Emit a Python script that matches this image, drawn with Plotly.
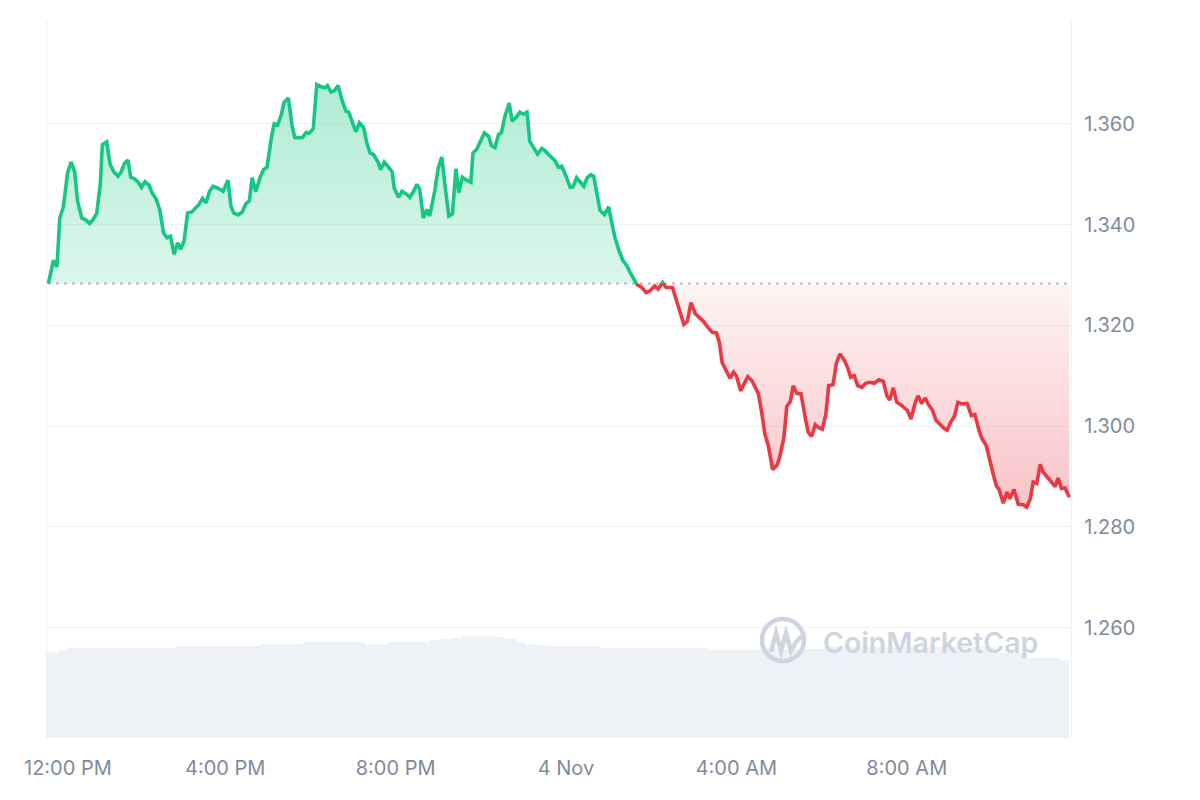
import plotly.graph_objects as go
import pandas as pd

# ---------------- data ----------------
START = pd.Timestamp("2024-11-03 11:49")

price_minutes = [
    2, 9, 14, 18, 23, 29, 34, 39, 43, 49, 55, 60, 65, 70, 75, 78, 84, 89, 94, 100,
    104, 109, 114, 118, 124, 129, 133, 138, 144, 148, 154, 159, 164, 169, 174, 179, 184, 188, 193, 198,
    204, 209, 214, 219, 224, 229, 234,
    241, 248, 255, 259, 263, 269, 275, 280, 285, 289, 294, 300, 305, 310, 316, 320, 325, 330, 334, 340,
    345, 349, 354, 360, 365, 369, 375, 380, 386, 391, 395, 400, 405, 410, 416, 421, 425, 430, 435, 440,
    446, 450, 455, 460,
    467, 470, 475, 481, 486, 489, 495, 500, 507, 511, 516, 521, 525, 530, 535, 539, 546, 551, 556, 561,
    566, 571, 576, 580, 585, 591, 597, 600, 605, 610, 616, 622, 626, 631, 636, 640, 645, 651, 655, 662,
    666, 671, 676, 680, 685, 691, 697, 701, 708,
    716, 720, 725, 731, 737, 741, 746, 752, 756, 761, 766, 770, 774, 779, 785, 791, 795, 800, 805, 811,
    817, 822, 831, 838, 844, 849, 856, 861, 867, 872, 881, 887, 892, 897, 902, 907, 913, 919, 924, 931,
    937, 943, 947, 951, 956, 962, 967, 971, 977, 982, 987, 993, 997, 1002, 1007, 1011, 1016, 1022, 1028, 1032,
    1038, 1042, 1047, 1051, 1056, 1062, 1068, 1072, 1077, 1082, 1086, 1092, 1097, 1101, 1107, 1112, 1117, 1123, 1128, 1132,
    1137, 1142, 1148, 1153, 1159, 1165,
    1172, 1178, 1183, 1187, 1192, 1197, 1202, 1207, 1212, 1217, 1223, 1227, 1232, 1237, 1241, 1247, 1252, 1258, 1263, 1268,
    1273, 1278, 1283, 1288, 1296, 1302, 1307, 1313, 1317, 1323, 1327, 1332, 1337, 1341, 1347, 1352, 1356, 1362, 1368, 1375,
    1380, 1385, 1389, 1394, 1399, 1403, 1409, 1415, 1420, 1424, 1429, 1434, 1440,
]

price_usd = [
    1.3283, 1.3329, 1.3316, 1.3413, 1.3435, 1.3503, 1.3524, 1.3504, 1.3447, 1.3413, 1.3409, 1.3402, 1.3410, 1.3422, 1.3480, 1.3559, 1.3564, 1.3519, 1.3505, 1.3496,
    1.3503, 1.3521, 1.3528, 1.3494, 1.3490, 1.3483, 1.3474, 1.3485, 1.3478, 1.3463, 1.3450, 1.3428, 1.3384, 1.3374, 1.3377, 1.3341, 1.3364, 1.3351, 1.3367, 1.3423,
    1.3425, 1.3432, 1.3440, 1.3452, 1.3443, 1.3466, 1.3476,
    1.3472, 1.3466, 1.3488, 1.3437, 1.3423, 1.3419, 1.3425, 1.3441, 1.3447, 1.3493, 1.3465, 1.3493, 1.3509, 1.3514, 1.3572, 1.3600, 1.3598, 1.3618, 1.3643, 1.3651,
    1.3598, 1.3573, 1.3572, 1.3573, 1.3583, 1.3581, 1.3590, 1.3678, 1.3674, 1.3671, 1.3676, 1.3663, 1.3666, 1.3676, 1.3645, 1.3625, 1.3623, 1.3605, 1.3584, 1.3602,
    1.3592, 1.3565, 1.3542, 1.3539,
    1.3522, 1.3509, 1.3524, 1.3514, 1.3505, 1.3473, 1.3454, 1.3466, 1.3460, 1.3454, 1.3465, 1.3480, 1.3470, 1.3413, 1.3430, 1.3417, 1.3466, 1.3512, 1.3534, 1.3473,
    1.3417, 1.3421, 1.3511, 1.3463, 1.3494, 1.3488, 1.3484, 1.3542, 1.3549, 1.3564, 1.3582, 1.3575, 1.3557, 1.3553, 1.3579, 1.3582, 1.3615, 1.3641, 1.3605, 1.3615,
    1.3623, 1.3619, 1.3623, 1.3565, 1.3552, 1.3540, 1.3551, 1.3547, 1.3537,
    1.3526, 1.3514, 1.3516, 1.3496, 1.3474, 1.3475, 1.3493, 1.3483, 1.3476, 1.3493, 1.3499, 1.3496, 1.3463, 1.3428, 1.3420, 1.3435, 1.3407, 1.3374, 1.3351, 1.3329,
    1.3318, 1.3303, 1.3281, 1.3275, 1.3265, 1.3268, 1.3278, 1.3272, 1.3285, 1.3275, 1.3275, 1.3249, 1.3222, 1.3202, 1.3208, 1.3245, 1.3223, 1.3215, 1.3209, 1.3196,
    1.3186, 1.3185, 1.3166, 1.3126, 1.3113, 1.3095, 1.3107, 1.3100, 1.3070, 1.3085, 1.3098, 1.3090, 1.3078, 1.3064, 1.3024, 1.2985, 1.2961, 1.2914, 1.2922, 1.2938,
    1.2978, 1.3039, 1.3049, 1.3080, 1.3065, 1.3064, 1.3017, 1.2988, 1.2980, 1.3003, 1.2998, 1.2994, 1.3023, 1.3080, 1.3082, 1.3126, 1.3143, 1.3131, 1.3115, 1.3097,
    1.3100, 1.3080, 1.3077, 1.3085, 1.3087, 1.3085,
    1.3092, 1.3089, 1.3060, 1.3052, 1.3076, 1.3047, 1.3043, 1.3037, 1.3031, 1.3014, 1.3047, 1.3060, 1.3045, 1.3056, 1.3044, 1.3032, 1.3012, 1.3003, 1.2996, 1.2992,
    1.3008, 1.3019, 1.3047, 1.3044, 1.3045, 1.3021, 1.3023, 1.2990, 1.2975, 1.2961, 1.2935, 1.2909, 1.2882, 1.2874, 1.2847, 1.2869, 1.2856, 1.2874, 1.2845, 1.2844,
    1.2839, 1.2856, 1.2889, 1.2886, 1.2924, 1.2909, 1.2899, 1.2887, 1.2880, 1.2897, 1.2876, 1.2877, 1.2859,
]

# 24h rolling volume (millions USD), one value per 15 minutes
volume_step_min = 15
volume_musd = [
    43.0, 44.0, 45.0, 45.0, 44.8, 44.8, 44.8, 44.8, 44.8, 44.8, 44.8, 44.8,
    46.0, 46.0, 46.0, 46.0, 46.0, 46.0, 46.0, 46.0, 47.0, 47.0, 47.0, 47.0,
    47.9, 47.9, 47.9, 47.9, 47.9, 47.9, 47.0, 47.0, 47.9, 47.9, 47.9, 47.9,
    49.0, 49.5, 50.0, 51.0, 51.0, 51.0, 50.5, 49.5, 48.0, 47.0, 46.5, 46.0,
    46.0, 46.0, 46.0, 46.0, 45.0, 45.0, 45.0, 45.0, 45.0, 45.0, 45.0, 45.0,
    45.0, 45.0, 43.8, 43.8, 43.8, 43.8, 43.8, 44.5, 44.5, 44.5, 44.5, 44.5,
    44.5, 45.5, 45.5, 45.5, 45.5, 45.5, 45.5, 45.5, 45.5, 45.5, 45.5, 45.5,
    45.5, 45.5, 45.5, 45.5, 45.5, 42.5, 42.5, 42.5, 40.0, 40.0, 40.0, 39.0,
]

y_tick_values = [1.26, 1.28, 1.30, 1.32, 1.34, 1.36]
x_tick_times = ["2024-11-03 16:00", "2024-11-03 20:00", "2024-11-04 00:00",
                "2024-11-04 04:00", "2024-11-04 08:00"]
x_tick_labels = ["4:00 PM", "8:00 PM", "4 Nov", "4:00 AM", "8:00 AM"]
first_tick_time = "2024-11-03 12:00"
first_tick_label = "12:00 PM"

# ---------------- style ----------------
GREEN = "#16c784"
RED = "#ea3943"
TEXT = "#808a9d"
GRID = "#eff2f5"
FONT = "Inter"
TICK_SIZE = 20

base = price_usd[0]

# insert baseline crossing points so colours switch exactly at the baseline
ts, ps = [], []
for i, (m, p) in enumerate(zip(price_minutes, price_usd)):
    if i > 0:
        m0, p0 = price_minutes[i - 1], price_usd[i - 1]
        d0, d1 = p0 - base, p - base
        if d0 * d1 < 0:
            f = d0 / (d0 - d1)
            ts.append(m0 + f * (m - m0))
            ps.append(base)
    ts.append(m)
    ps.append(p)

times = [START + pd.Timedelta(minutes=m) for m in ts]
upper = [max(p, base) for p in ps]
lower = [min(p, base) for p in ps]
green_line = [p if p >= base else None for p in ps]
red_line = [p if p <= base else None for p in ps]
base_line = [base] * len(ps)

vol_times = [START + pd.Timedelta(minutes=volume_step_min * (i + 0.5)) for i in range(len(volume_musd))]

fig = go.Figure()

fig.add_trace(go.Bar(
    x=vol_times, y=volume_musd, yaxis="y2",
    width=volume_step_min * 60 * 1000,
    marker=dict(color="#eef1f5", line=dict(width=0)),
    hoverinfo="skip", showlegend=False,
))

# green fill
fig.add_trace(go.Scatter(x=times, y=base_line, mode="lines", line=dict(width=0),
                         hoverinfo="skip", showlegend=False))
fig.add_trace(go.Scatter(
    x=times, y=upper, mode="lines", line=dict(width=0), fill="tonexty",
    fillgradient=dict(type="vertical", start=base, stop=max(price_usd),
                      colorscale=[[0, "rgba(22,199,132,0.15)"], [1, "rgba(22,199,132,0.34)"]]),
    hoverinfo="skip", showlegend=False))
# red fill
fig.add_trace(go.Scatter(x=times, y=base_line, mode="lines", line=dict(width=0),
                         hoverinfo="skip", showlegend=False))
fig.add_trace(go.Scatter(
    x=times, y=lower, mode="lines", line=dict(width=0), fill="tonexty",
    fillgradient=dict(type="vertical", start=min(price_usd), stop=base,
                      colorscale=[[0, "rgba(234,57,67,0.30)"], [1, "rgba(234,57,67,0.06)"]]),
    hoverinfo="skip", showlegend=False))

# dotted baseline
fig.add_trace(go.Scatter(x=[times[0], times[-1]], y=[base, base], mode="lines",
                         line=dict(color="#9aa1ad", width=2, dash="2px,6px"),
                         hoverinfo="skip", showlegend=False))

fig.add_trace(go.Scatter(x=times, y=green_line, mode="lines", connectgaps=False,
                         line=dict(color=GREEN, width=3.6), showlegend=False))
fig.add_trace(go.Scatter(x=times, y=red_line, mode="lines", connectgaps=False,
                         line=dict(color=RED, width=3.6), showlegend=False))

# ---------------- layout ----------------
# page has an 8px body margin; plot area in page pixels:
OFF = 8
L, R, T, B = 47, 1071, 20, 738
W, H = 1200 - 2 * OFF, 800 - 2 * OFF


def px(xp, yp):
    return (xp - L) / (R - L), (B - yp) / (B - T)


x0, y0 = px(762, 661)
x1, y1 = px(804, 619)
shapes = [dict(type="circle", xref="paper", yref="paper", x0=x0, y0=y0, x1=x1, y1=y1,
               line=dict(color="#cfd5de", width=4.5), layer="above")]
wave = [(771, 652), (776, 633), (781, 651), (786, 633), (791, 651), (796, 642), (802, 636)]
path = ""
for k, (a, b) in enumerate(wave):
    xx, yy = px(a, b)
    path += ("M" if k == 0 else "L") + f"{xx:.5f},{yy:.5f}"
shapes.append(dict(type="path", xref="paper", yref="paper", path=path,
                   line=dict(color="#cfd5de", width=4.5), layer="above"))

tx, ty = px(821, 642)
annotations = [
    dict(x=tx, y=ty, xref="paper", yref="paper", text="CoinMarketCap", showarrow=False,
         xanchor="left", yanchor="middle",
         font=dict(family=FONT, size=28.5, color="#cfd5de", weight=600)),
    dict(x=first_tick_time, y=0, xref="x", yref="paper", text=first_tick_label, showarrow=False,
         xanchor="center", yanchor="middle", xshift=13, yshift=-30,
         font=dict(family=FONT, size=TICK_SIZE, color=TEXT)),
]

fig.update_layout(
    width=W, height=H,
    margin=dict(l=L - OFF, r=W - (R - OFF), t=T - OFF, b=H - (B - OFF)),
    paper_bgcolor="white", plot_bgcolor="white",
    font=dict(family=FONT, size=TICK_SIZE, color=TEXT),
    showlegend=False,
    bargap=0,
    xaxis=dict(
        type="date", automargin=False,
        range=[START, START + pd.Timedelta(minutes=1442.3)],
        tickvals=x_tick_times, ticktext=x_tick_labels,
        showgrid=False, zeroline=False, showline=False,
        ticks="outside", ticklen=12, tickcolor="rgba(0,0,0,0)",
        tickfont=dict(family=FONT, size=TICK_SIZE, color=TEXT),
    ),
    yaxis=dict(
        side="right", automargin=False,
        range=[1.2381, 1.3806],
        tickvals=y_tick_values, tickformat=".3f",
        showgrid=True, gridcolor=GRID, gridwidth=1.3,
        zeroline=False,
        showline=True, linecolor=GRID, linewidth=1.3, mirror=True,
        ticks="outside", ticklen=8, tickcolor="rgba(0,0,0,0)",
        tickfont=dict(family=FONT, size=TICK_SIZE, color=TEXT),
    ),
    yaxis2=dict(overlaying="y", range=[0, 359], visible=False),
    shapes=shapes,
    annotations=annotations,
)

fig.write_html("out.html")
